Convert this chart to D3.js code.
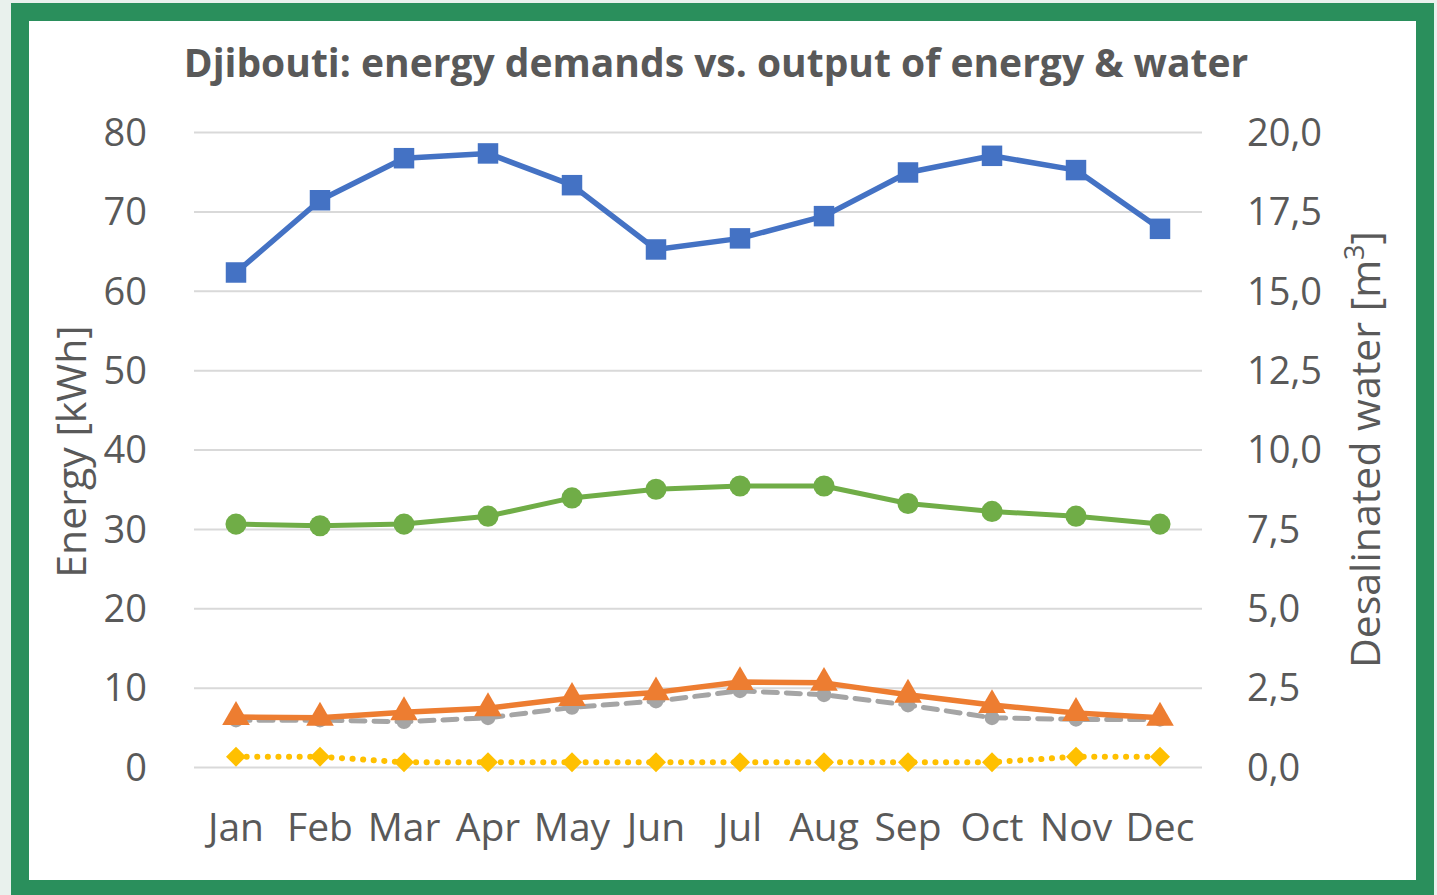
<!DOCTYPE html>
<html>
<head>
<script src="https://d3js.org/d3.v7.min.js"></script>
<style>
    body { margin: 0; background: #e9f1ed; }
    svg { display: block; }
    text { font-family: 'Open Sans', sans-serif; fill: #595959; }
</style>
</head>
<body>
<div id="chart"></div>
<script>
// Data
const months = ["Jan", "Feb", "Mar", "Apr", "May", "Jun", "Jul", "Aug", "Sep", "Oct", "Nov", "Dec"];
const blueSeries   = [62.3, 71.4, 76.7, 77.3, 73.3, 65.2, 66.6, 69.4, 74.9, 77.0, 75.2, 67.8];
const greenSeries  = [30.6, 30.4, 30.6, 31.6, 33.9, 35.0, 35.4, 35.4, 33.2, 32.2, 31.6, 30.6];
const orangeSeries = [6.3, 6.2, 6.9, 7.4, 8.7, 9.4, 10.7, 10.6, 9.1, 7.8, 6.8, 6.2];
const graySeries   = [5.9, 5.9, 5.7, 6.2, 7.5, 8.3, 9.6, 9.1, 7.8, 6.2, 6.0, 6.0];
const yellowSeries = [1.3, 1.3, 0.6, 0.6, 0.6, 0.6, 0.6, 0.6, 0.6, 0.6, 1.3, 1.3];
const leftTicks  = [0, 10, 20, 30, 40, 50, 60, 70, 80];
const rightTicks = [0, 2.5, 5, 7.5, 10, 12.5, 15, 17.5, 20];

const width = 1437, height = 895;
const margin = { top: 132, right: 235, bottom: 128, left: 194 };

const svg = d3.select("#chart").append("svg")
    .attr("width", width)
    .attr("height", height);

// Green frame
svg.append("rect")
    .attr("x", 20).attr("y", 12)
    .attr("width", 1405).attr("height", 877)
    .attr("fill", "#fff")
    .attr("stroke", "#2a8f5c")
    .attr("stroke-width", 18);

const x = d3.scaleBand()
    .domain(months)
    .range([margin.left, width - margin.right]);

const y = d3.scaleLinear()
    .domain([0, 80])
    .range([height - margin.bottom, margin.top]);

const y2 = d3.scaleLinear()
    .domain([0, 20])
    .range([height - margin.bottom, margin.top]);

// Gridlines
svg.append("g")
    .attr("transform", `translate(${margin.left},0)`)
    .call(d3.axisRight(y).tickValues(leftTicks).tickSize(x.range()[1] - x.range()[0]).tickFormat(""))
    .call(g => g.select(".domain").remove())
    .selectAll(".tick line")
    .attr("stroke", "#d9d9d9")
    .attr("stroke-width", 2);

// Left axis labels
svg.append("g")
    .attr("transform", `translate(${margin.left - 44},0)`)
    .call(d3.axisLeft(y).tickValues(leftTicks).tickSize(0))
    .call(g => g.select(".domain").remove())
    .selectAll("text")
    .style("font-size", "38px")
    .attr("fill", "#595959")
    .attr("dy", "0.35em");

// Right axis labels
svg.append("g")
    .attr("transform", `translate(${width - margin.right + 42},0)`)
    .call(d3.axisRight(y2).tickValues(rightTicks).tickSize(0)
        .tickFormat(d => d3.format(".1f")(d).replace(".", ",")))
    .call(g => g.select(".domain").remove())
    .selectAll("text")
    .style("font-size", "38px")
    .attr("fill", "#595959")
    .attr("dy", "0.35em");

// X axis labels
svg.append("g")
    .attr("transform", `translate(0,${height - margin.bottom + 44})`)
    .call(d3.axisBottom(x).tickSize(0))
    .call(g => g.select(".domain").remove())
    .selectAll("text")
    .style("font-size", "39px")
    .attr("fill", "#595959")
    .attr("dy", "0.68em");

// Title
svg.append("text")
    .attr("x", 716).attr("y", 77)
    .attr("text-anchor", "middle")
    .style("font-size", "39px")
    .style("font-weight", "bold")
    .text("Djibouti: energy demands vs. output of energy & water");

// Axis titles
svg.append("text")
    .attr("transform", `translate(86,${(y(0) + y(80)) / 2 + 2}) rotate(-90)`)
    .attr("text-anchor", "middle")
    .style("font-size", "41px")
    .text("Energy [kWh]");

const rt = svg.append("text")
    .attr("transform", `translate(1380,${(y(0) + y(80)) / 2}) rotate(-90)`)
    .attr("text-anchor", "middle")
    .style("font-size", "41px");
rt.append("tspan").text("Desalinated water [m");
rt.append("tspan").attr("dy", -16).style("font-size", "27px").text("3");
rt.append("tspan").attr("dy", 16).text("]");

const cx = d => x(d) + x.bandwidth() / 2;

const series = [
    { values: graySeries,   color: "#a5a5a5", width: 5,   dash: "14,9",     marker: d3.symbolCircle,   size: 170, rot: 0 },
    { values: yellowSeries, color: "#ffc000", width: 6,   dash: "0.1,10.5", marker: d3.symbolSquare,   size: 200, rot: 45 },
    { values: orangeSeries, color: "#ed7d31", width: 5.5, dash: null,       marker: d3.symbolTriangle, size: 330, rot: 0 },
    { values: greenSeries,  color: "#70ad47", width: 5,   dash: null,       marker: d3.symbolCircle,   size: 350, rot: 0 },
    { values: blueSeries,   color: "#4472c4", width: 5.5, dash: null,       marker: d3.symbolSquare,   size: 420, rot: 0 }
];

const line = d3.line()
    .x((d, i) => cx(months[i]))
    .y(d => y(d));

series.forEach(s => {
    svg.append("path")
        .datum(s.values)
        .attr("d", line)
        .attr("fill", "none")
        .attr("stroke", s.color)
        .attr("stroke-width", s.width)
        .attr("stroke-linecap", "round")
        .attr("stroke-linejoin", "round")
        .attr("stroke-dasharray", s.dash);

    svg.append("g")
        .selectAll("path")
        .data(s.values)
        .join("path")
        .attr("transform", (d, i) => `translate(${cx(months[i])},${y(d)}) rotate(${s.rot})`)
        .attr("d", d3.symbol().type(s.marker).size(s.size))
        .attr("fill", s.color);
});
</script>
</body>
</html>
